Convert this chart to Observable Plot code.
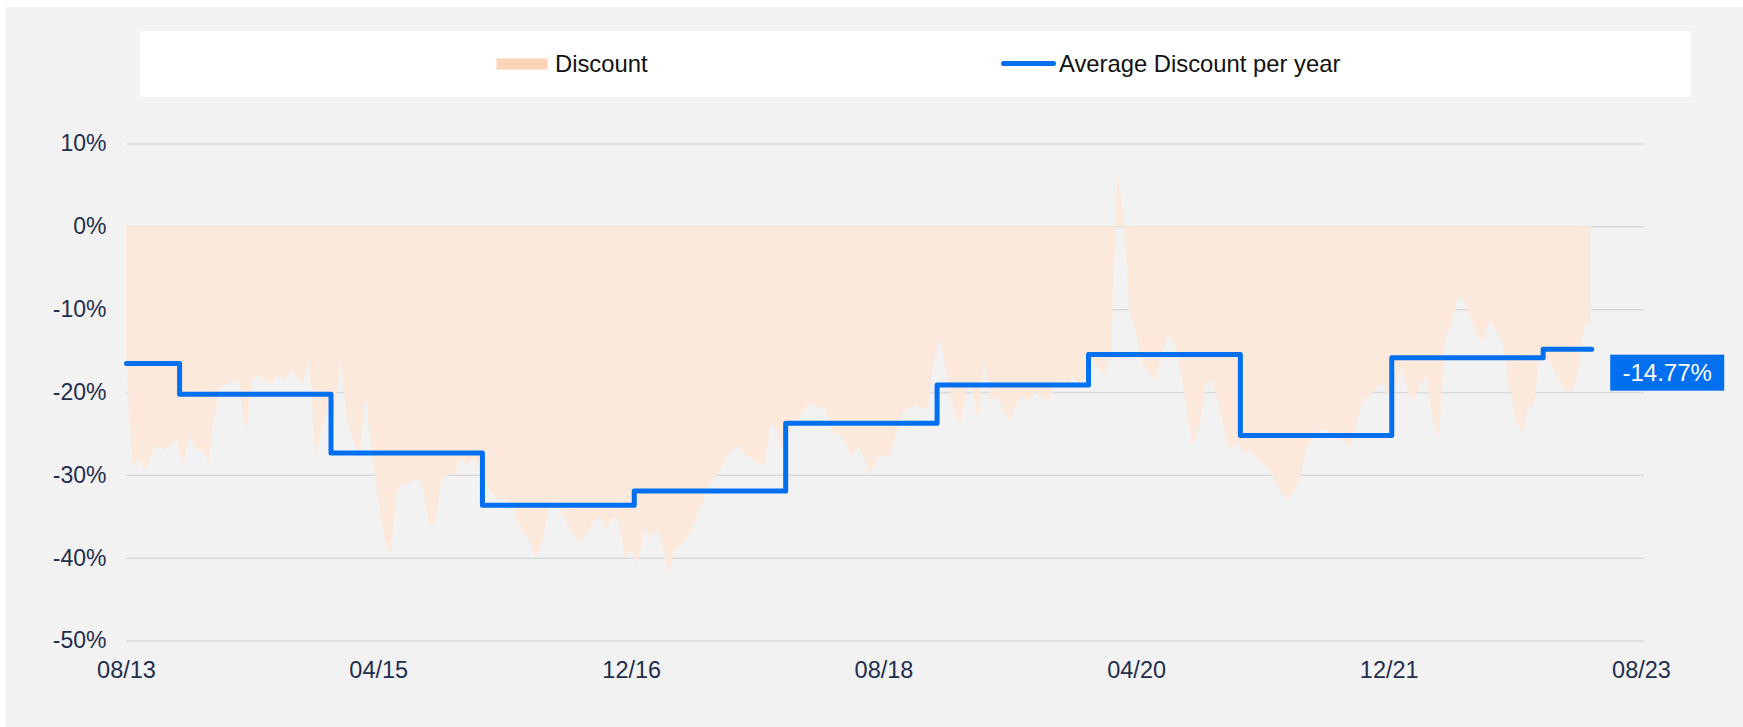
<!DOCTYPE html>
<html><head><meta charset="utf-8">
<script src="https://cdn.jsdelivr.net/npm/d3@7"></script>
<script src="https://cdn.jsdelivr.net/npm/@observablehq/plot@0.6"></script>
<style>
body{margin:0;background:#fff;font-family:"Liberation Sans",Arial,sans-serif;}
#wrap{position:relative;width:1743px;height:727px;overflow:hidden;}
#panel{position:absolute;left:6px;top:7px;right:0;bottom:0;background:#f2f2f2;}
#legend{position:absolute;left:140px;top:31px;width:1551px;height:66px;background:#fff;}
.lt{position:absolute;top:0;line-height:66px;font-size:23.8px;color:#111;white-space:nowrap;}
#chart{position:absolute;left:0;top:0;}
</style></head><body>
<div id="wrap"><div id="panel"></div>
<div id="legend">
 <div style="position:absolute;left:356px;top:27px;width:52px;height:12px;background:#fcd5b4;border:1.5px solid #fde6d6;box-sizing:border-box"></div>
 <div class="lt" style="left:415px">Discount</div>
 <div style="position:absolute;left:861px;top:29.5px;width:55px;height:5px;border-radius:2.5px;background:#0070f0"></div>
 <div class="lt" style="left:919px">Average Discount per year</div>
</div>
<div id="chart"></div></div>
<script>
// Discount, semi-monthly readings (1st and 16th of each month) from 2013-08-01
const discountStart = "2013-08-01";
const discountValues = [
 -15, -29, -28, -29.5, -27.5, -26.5, -27, -26.5, -25.5, -29,
 -25, -27, -27, -28.5, -23, -19.5, -19, -18.5, -19, -25,
 -18.5, -18, -18.5, -19, -18, -18.5, -17.5, -18, -19, -16,
 -28, -24, -22, -22.5, -16, -23.5, -26, -27.5, -20, -27,
 -33, -38, -39.5, -32, -31, -31, -30.5, -31, -36, -36,
 -30.5, -30, -30, -28, -29, -28, -29, -30.5, -32.3, -33,
 -33, -33.5, -35.5, -37, -38, -40, -38, -34, -33, -34.5,
 -36, -37.5, -38, -37, -35.5, -35, -36.5, -35, -35.5, -40,
 -39, -40.8, -36.5, -37.5, -36.5, -39, -41.9, -39, -38.5, -37.5,
 -36, -34, -32, -30.5, -29.5, -28, -27, -26.5, -27.5, -28,
 -28.5, -29, -24, -24.5, -27, -25, -23.5, -22.5, -21.5, -21.5,
 -22, -22, -25, -25, -26, -27.8, -26.5, -28, -30, -28,
 -27.5, -28, -25, -22.5, -22, -21.5, -22, -22, -16, -13.5,
 -18, -22, -23.8, -20, -19, -23.5, -16, -21, -20.5, -22,
 -23.5, -21.5, -20.5, -21, -20, -20.5, -21, -19.5, -18.5, -19.5,
 -18, -19, -18.5, -16, -17, -18, -15, 6.4, 1.5, -10,
 -13, -16.5, -17.5, -18.6, -16, -13, -14, -17, -22, -26.6,
 -24, -19, -18.5, -21, -25, -27, -26, -27.4, -27, -28,
 -28.6, -29.5, -30.6, -32, -33, -32, -30.5, -27, -25.5, -24.5,
 -24.5, -25, -25.5, -26, -26.6, -23, -21, -20.5, -19.4, -19,
 -20.5, -19, -17, -20, -21, -19, -18, -23, -25.4, -13,
 -12, -8.4, -9, -11, -13, -14, -11.5, -12.5, -14, -19,
 -23, -25, -22, -21.5, -15, -16, -17, -18.6, -19.8, -19.8,
 -18, -12, -11.5
];
// Average discount per year (step line)
const avgStarts = ["2013-08-01","2013-12-07","2014-12-07","2015-12-07","2016-12-07","2017-12-07","2018-12-07","2019-12-07","2020-12-07","2021-12-07","2022-12-07"];
const avgValues = [-16.5, -20.2, -27.3, -33.6, -31.9, -23.7, -19.1, -15.4, -25.2, -15.8, -14.77];
const avgEnd = "2023-04-03";
const xTicks = ["2013-08-01","2015-04-01","2016-12-01","2018-08-01","2020-04-01","2021-12-01","2023-08-01"];
const yTicks = [10, 0, -10, -20, -30, -40, -50];

const d0 = new Date(discountStart);
const discount = discountValues.map((v, i) => ({
  date: new Date(Date.UTC(d0.getUTCFullYear(), d0.getUTCMonth() + Math.floor(i / 2), i % 2 ? 16 : 1)),
  value: v
}));
const avg = avgStarts.map((d, i) => ({date: new Date(d), value: avgValues[i]}));
const lastAvg = avgValues[avgValues.length - 1];
avg.push({date: new Date(avgEnd), value: lastAvg});

const chart = Plot.plot({
  width: 1743, height: 727,
  marginLeft: 126, marginRight: 102, marginTop: 143.5, marginBottom: 86.5,
  style: {background: "transparent", color: "#1f2e4f", fontSize: "23.5px", fontFamily: '"Liberation Sans", Arial, sans-serif'},
  x: {type: "utc", domain: [new Date("2013-08-01"), new Date("2023-08-01")]},
  y: {domain: [-50, 10]},
  marks: [
    Plot.ruleY(yTicks, {stroke: "#d9d9d9", strokeWidth: 1.5, insetRight: -3}),
    Plot.areaY(discount, {x: "date", y: "value", fill: "#fde9db"}),
    Plot.line(avg, {x: "date", y: "value", stroke: "#0070f0", strokeWidth: 5, curve: "step-after", strokeLinecap: "round", strokeLinejoin: "round"}),
    Plot.axisX({ticks: xTicks.map(d => new Date(d)), tickFormat: d3.utcFormat("%m/%y"), tickSize: 0, tickPadding: 20, label: null}),
    Plot.axisY({ticks: yTicks, tickFormat: d => `${d}%`, tickSize: 0, tickPadding: 20, label: null, fontSize: 23})
  ]
});
document.getElementById("chart").appendChild(chart);

const sx = chart.scale("x"), sy = chart.scale("y");
const lx = sx.apply(new Date(avgEnd)), ly = sy.apply(lastAvg);
const g = d3.select(chart).append("g");
g.append("rect").attr("x", lx + 19).attr("y", ly + 6).attr("width", 114).attr("height", 36).attr("fill", "#0070f0");
g.append("text").attr("x", lx + 19 + 57).attr("y", ly + 24).attr("dy", "0.35em")
  .attr("text-anchor", "middle").attr("fill", "#fff").attr("font-size", "24px")
  .text(`${lastAvg.toFixed(2)}%`);
</script>
</body></html>
